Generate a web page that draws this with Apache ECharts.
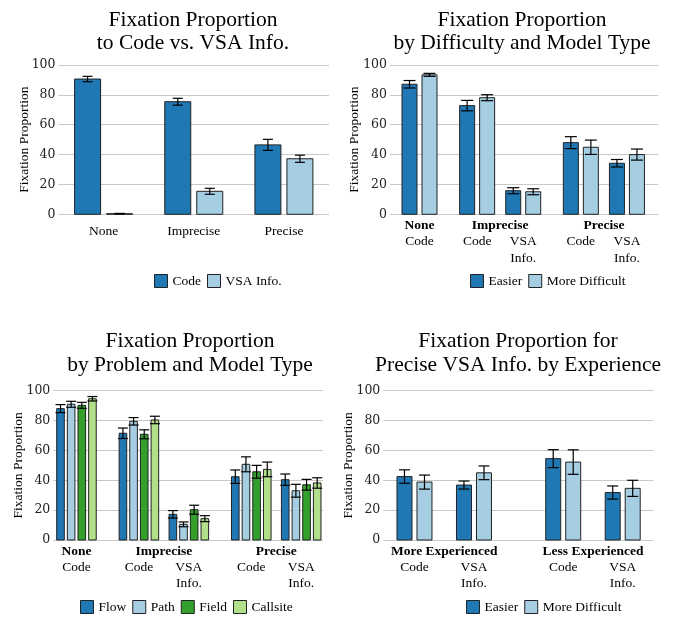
<!DOCTYPE html>
<html>
<head>
<meta charset="utf-8">
<script src="https://cdn.jsdelivr.net/npm/echarts@6/dist/echarts.min.js"></script>
<style>
  html, body { margin: 0; padding: 0; background: #fff; }
  #main { width: 684px; height: 623px; }
</style>
</head>
<body>
<div id="main"></div>
<script>
// panel 1: fixation to code vs VSA info
var p1Groups = ['None', 'Imprecise', 'Precise'];
var p1Code = [90.6, 75.4, 46.5];
var p1CodeErr = [1.8, 2.3, 3.7];
var p1Vsa = [0.4, 15.4, 37.2];
var p1VsaErr = [0.2, 2.0, 2.4];

// panel 2: by difficulty and model type
var p2Groups = ['None', 'Imprecise', 'Precise'];
var p2Subs = [['Code'], ['Code', 'VSA\nInfo.'], ['Code', 'VSA\nInfo.']];
var p2Easier = [87.1, 72.8, 15.8, 48.0, 34.2];
var p2EasierErr = [2.5, 3.5, 2.0, 4.0, 2.5];
var p2Harder = [93.4, 78.1, 15.1, 44.9, 40.0];
var p2HarderErr = [1.0, 2.0, 2.0, 4.8, 3.7];

// panel 3: by problem and model type
var p3Groups = ['None', 'Imprecise', 'Precise'];
var p3Subs = [['Code'], ['Code', 'VSA\nInfo.'], ['Code', 'VSA\nInfo.']];
var p3Flow = [88.0, 71.5, 17.2, 42.4, 40.4];
var p3FlowErr = [2.7, 3.5, 2.5, 4.5, 3.8];
var p3Path = [90.9, 79.5, 10.5, 50.7, 33.0];
var p3PathErr = [2.0, 2.5, 1.6, 5.0, 4.3];
var p3Field = [90.2, 70.8, 20.3, 45.7, 37.0];
var p3FieldErr = [2.0, 3.0, 3.0, 4.3, 3.6];
var p3Callsite = [94.6, 80.4, 14.3, 47.3, 38.2];
var p3CallsiteErr = [1.5, 2.5, 2.0, 4.9, 3.5];

// panel 4: precise VSA info by experience
var p4Groups = ['More Experienced', 'Less Experienced'];
var p4Subs = [['Code', 'VSA\nInfo.'], ['Code', 'VSA\nInfo.']];
var p4Easier = [42.5, 36.8, 54.5, 31.8];
var p4EasierErr = [4.5, 2.7, 6.0, 4.4];
var p4Harder = [38.8, 45.0, 52.2, 34.6];
var p4HarderErr = [4.7, 4.6, 8.2, 5.4];

var yTicks = [0, 20, 40, 60, 80, 100];

var FONT = "'Liberation Serif', 'Times New Roman', serif";
var TICKFONT = "'DejaVu Serif', serif";
var DARKBLUE = '#1f78b4', LIGHTBLUE = '#a6cee3', DARKGREEN = '#33a02c', LIGHTGREEN = '#b2df8a';

// x slot of every sub category, groups get an extra gap
function slots(subs, extra) {
    var pos = [], x = 0;
    for (var g = 0; g < subs.length; g++) {
        for (var s = 0; s < subs[g].length; s++) {
            pos.push(x);
            x += 1;
        }
        x += extra;
    }
    return pos;
}

// bars + error bars drawn through the grid's axes
function barSeries(name, gi, pos, vals, errs, color, k, n, o) {
    return {
        type: 'custom',
        name: name,
        xAxisIndex: gi,
        yAxisIndex: gi,
        itemStyle: { color: color },
        encode: { x: 0, y: 1 },
        data: vals.map(function (v, i) { return [pos[i], v, errs[i]]; }),
        renderItem: function (params, api) {
            var x = api.value(0), v = api.value(1), e = api.value(2);
            var base = api.coord([x, 0]);
            var top = api.coord([x, v]);
            var cx = base[0] + (k - (n - 1) / 2) * o.pitch;
            var hi = api.coord([x, v + e])[1];
            var lo = api.coord([x, Math.max(0, v - e)])[1];
            return {
                type: 'group',
                children: [
                    { type: 'rect', shape: { x: cx - o.barW / 2, y: top[1], width: o.barW, height: base[1] - top[1] },
                      style: { fill: color, stroke: '#222', lineWidth: 1 } },
                    { type: 'line', shape: { x1: cx, y1: hi, x2: cx, y2: lo }, style: { stroke: '#000', lineWidth: 1.2 } },
                    { type: 'line', shape: { x1: cx - o.capW / 2, y1: hi, x2: cx + o.capW / 2, y2: hi }, style: { stroke: '#000', lineWidth: 1.2 } },
                    { type: 'line', shape: { x1: cx - o.capW / 2, y1: lo, x2: cx + o.capW / 2, y2: lo }, style: { stroke: '#000', lineWidth: 1.2 } }
                ]
            };
        }
    };
}

// category labels under the axis (bold group line + sub line)
function labelSeries(gi, groups, subs, pos, o) {
    var items = [], idx = 0;
    for (var g = 0; g < groups.length; g++) {
        var first = pos[idx];
        var sl = subs ? subs[g] : [null];
        for (var s = 0; s < sl.length; s++) {
            if (sl[s]) items.push({ x: pos[idx], text: sl[s], bold: false });
            idx++;
        }
        var last = pos[idx - 1];
        items.push({ x: (first + last) / 2, text: groups[g], bold: !!subs });
    }
    return {
        type: 'custom',
        xAxisIndex: gi,
        yAxisIndex: gi,
        silent: true,
        encode: { x: 0, y: 1 },
        data: items.map(function (it) { return [it.x, 0]; }),
        renderItem: function (params, api) {
            var it = items[params.dataIndex];
            var p = api.coord([api.value(0), 0]);
            var isGroup = it.bold || !subs;
            return {
                type: 'text',
                x: p[0],
                y: p[1] + (isGroup ? o.groupDy : o.subDy),
                style: {
                    text: it.text,
                    fill: '#000',
                    fontFamily: FONT,
                    fontSize: 13.5,
                    fontWeight: it.bold ? 'bold' : 'normal',
                    align: 'center',
                    verticalAlign: isGroup ? 'middle' : 'top',
                    lineHeight: 16.3
                }
            };
        }
    };
}

function yAxis(gi, gap) {
    return {
        gridIndex: gi, type: 'value', min: 0, max: 100, interval: 20,
        name: 'Fixation Proportion', nameLocation: 'middle', nameGap: gap,
        nameMoveOverlap: false,
        nameTextStyle: { fontFamily: FONT, fontSize: 13.5, color: '#000' },
        axisLine: { show: false }, axisTick: { show: false },
        axisLabel: { fontFamily: TICKFONT, fontSize: 12.5, color: '#222', margin: 3,
                     customValues: yTicks },
        splitLine: { lineStyle: { color: '#c8c8c8', width: 1 } }
    };
}

function xAxis(gi, min, max) {
    return { gridIndex: gi, type: 'value', min: min, max: max, show: false };
}

function legend(names, left, top) {
    return {
        data: names, left: left, top: top, padding: 0,
        icon: 'rect', itemWidth: 13, itemHeight: 13, itemGap: 6,
        itemStyle: { borderColor: '#222', borderWidth: 1 },
        textStyle: { fontFamily: FONT, fontSize: 13.5, color: '#000', padding: [7, 0, 0, 0] },
        selectedMode: false
    };
}

function title(text, left, top) {
    return {
        text: text, left: left, top: top, textAlign: 'center', padding: 0,
        textStyle: { fontFamily: FONT, fontSize: 21.5, fontWeight: 'normal', color: '#000', lineHeight: 23.5 }
    };
}

var pos1 = slots([[1], [1], [1]], 0);
var pos2 = slots(p2Subs, 0.25);
var pos3 = slots(p3Subs, 0.25);
var pos4 = slots(p4Subs, 0.5);

var o1 = { pitch: 32, barW: 26, capW: 10 };
var o2 = { pitch: 20, barW: 15, capW: 12 };
var o3 = { pitch: 10.65, barW: 7.6, capW: 10 };
var o4 = { pitch: 20, barW: 15, capW: 11 };

var chart = echarts.init(document.getElementById('main'));

chart.setOption({
    backgroundColor: '#fff',
    animation: false,
    title: [
        title('Fixation Proportion\nto Code vs. VSA Info.', 193, 8.5),
        title('Fixation Proportion\nby Difficulty and Model Type', 522, 8.5),
        title('Fixation Proportion\nby Problem and Model Type', 190, 330),
        title('Fixation Proportion for\nPrecise VSA Info. by Experience', 518, 330)
    ],
    legend: [
        legend(['Code', 'VSA Info.'], 154, 274),
        legend(['Easier', 'More Difficult'], 470, 274),
        legend(['Flow', 'Path', 'Field', 'Callsite'], 80, 600),
        legend(['Easier', 'More Difficult'], 466, 600)
    ],
    grid: [
        { left: 58.5, top: 65, width: 270.5, height: 149.3 },
        { left: 390, top: 65, width: 268.3, height: 149.3 },
        { left: 53.3, top: 390.7, width: 269.7, height: 149.3 },
        { left: 383.3, top: 390.7, width: 270, height: 149.3 }
    ],
    xAxis: [
        xAxis(0, -0.5, 2.5),
        xAxis(1, -0.64, 5.18),
        xAxis(2, -0.464, 4.936),
        xAxis(3, -0.524, 4.014)
    ],
    yAxis: [yAxis(0, 27), yAxis(1, 29), yAxis(2, 28), yAxis(3, 28)],
    series: [
        barSeries('Code', 0, pos1, p1Code, p1CodeErr, DARKBLUE, 0, 2, o1),
        barSeries('VSA Info.', 0, pos1, p1Vsa, p1VsaErr, LIGHTBLUE, 1, 2, o1),
        labelSeries(0, p1Groups, null, pos1, { groupDy: 17.4, subDy: 0 }),

        barSeries('Easier', 1, pos2, p2Easier, p2EasierErr, DARKBLUE, 0, 2, o2),
        barSeries('More Difficult', 1, pos2, p2Harder, p2HarderErr, LIGHTBLUE, 1, 2, o2),
        labelSeries(1, p2Groups, p2Subs, pos2, { groupDy: 11.4, subDy: 19.3 }),

        barSeries('Flow', 2, pos3, p3Flow, p3FlowErr, DARKBLUE, 0, 4, o3),
        barSeries('Path', 2, pos3, p3Path, p3PathErr, LIGHTBLUE, 1, 4, o3),
        barSeries('Field', 2, pos3, p3Field, p3FieldErr, DARKGREEN, 2, 4, o3),
        barSeries('Callsite', 2, pos3, p3Callsite, p3CallsiteErr, LIGHTGREEN, 3, 4, o3),
        labelSeries(2, p3Groups, p3Subs, pos3, { groupDy: 11.7, subDy: 19.5 }),

        barSeries('Easier', 3, pos4, p4Easier, p4EasierErr, DARKBLUE, 0, 2, o4),
        barSeries('More Difficult', 3, pos4, p4Harder, p4HarderErr, LIGHTBLUE, 1, 2, o4),
        labelSeries(3, p4Groups, p4Subs, pos4, { groupDy: 11.7, subDy: 19.5 })
    ]
});
</script>
</body>
</html>
